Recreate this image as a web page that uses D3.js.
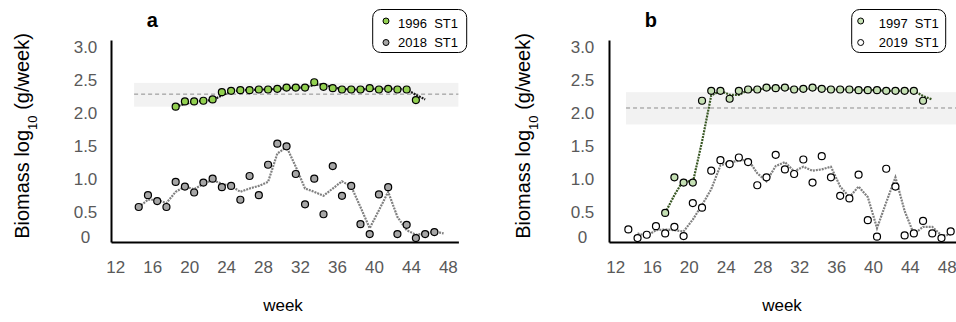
<!DOCTYPE html>
<html><head><meta charset="utf-8">
<script src="https://cdn.jsdelivr.net/npm/d3@7"></script>
<style>
html,body{margin:0;padding:0;background:#fff;}
svg{display:block;font-family:"Liberation Sans",Arial,sans-serif;}
</style></head><body>
<svg id="chart" width="956" height="322"></svg>
<script>
// ---------------- data ----------------
const xTickValues = [12, 16, 20, 24, 28, 32, 36, 40, 44, 48];
const yTickValues = [0, 0.5, 1, 1.5, 2, 2.5, 3];
const yTickLabels = ["0", "0.5", "1.0", "1.5", "2.0", "2.5", "3.0"];

// panel a
const aTitle = "a";
const aLegend = ["1996  ST1", "2018  ST1"];
const a1996Start = 18;
const a1996Values = [2.05,2.13,2.13,2.14,2.16,2.27,2.29,2.30,2.30,2.31,2.31,2.32,2.34,2.34,2.34,2.42,2.35,2.33,2.31,2.31,2.31,2.33,2.31,2.32,2.31,2.31,2.15];
const a1996TrendStart = 18;
const a1996Trend = [2.05,2.09,2.13,2.14,2.15,2.22,2.28,2.30,2.30,2.31,2.31,2.32,2.33,2.34,2.34,2.38,2.39,2.34,2.32,2.31,2.31,2.32,2.32,2.32,2.32,2.31,2.23,2.16];
const a2018Start = 14;
const a2018Values = [0.53,0.71,0.62,0.53,0.91,0.84,0.75,0.90,0.96,0.83,0.85,0.64,1.00,0.71,1.17,1.49,1.45,1.03,0.57,0.96,0.42,1.15,0.70,0.85,0.27,0.12,0.72,0.83,0.12,0.26,0.06,0.12,0.15];
const a2018TrendStart = 14;
const a2018Trend = [0.53,0.64,0.64,0.59,0.76,0.84,0.80,0.88,0.94,0.88,0.85,0.76,0.81,0.85,0.91,1.34,1.44,1.14,0.81,0.76,0.70,0.81,0.92,0.84,0.53,0.21,0.48,0.76,0.38,0.18,0.11,0.13,0.16,0.13];
const aBand = [2.05, 2.41];
const aMean = 2.24;
const aBandWeeks = [13.5, 48.6];

// panel b
const bTitle = "b";
const bLegend = ["1997  ST1", "2019  ST1"];
const b1997Start = 17;
const b1997Values = [0.44,0.98,0.90,0.90,2.14,2.29,2.29,2.17,2.29,2.31,2.31,2.34,2.33,2.34,2.31,2.32,2.34,2.32,2.31,2.31,2.31,2.30,2.30,2.30,2.29,2.29,2.29,2.29,2.14];
const b1997TrendStart = 17;
const b1997Trend = [0.44,0.71,0.94,0.90,1.52,2.22,2.29,2.23,2.23,2.30,2.31,2.33,2.33,2.33,2.32,2.31,2.33,2.33,2.31,2.31,2.31,2.30,2.30,2.30,2.29,2.29,2.29,2.29,2.21,2.16];
const b2019Start = 13;
const b2019Values = [0.19,0.06,0.11,0.24,0.13,0.23,0.09,0.59,0.52,1.08,1.24,1.18,1.28,1.21,0.86,0.98,1.32,1.10,1.03,1.25,0.90,1.30,0.98,0.70,0.66,1.02,0.33,0.08,1.11,0.84,0.10,0.13,0.32,0.13,0.06,0.16];
const b2019TrendStart = 14;
const b2019Trend = [0.13,0.09,0.18,0.19,0.18,0.16,0.34,0.56,0.80,1.16,1.21,1.23,1.25,1.04,0.92,1.15,1.21,1.07,1.14,1.08,1.10,1.14,0.84,0.68,0.84,0.68,0.21,0.60,0.98,0.47,0.12,0.23,0.23,0.10,0.11];
const bBand = [1.78, 2.27];
const bMean = 2.03;
const bBandWeeks = [12.75, 49.5];

// ---------------- drawing ----------------
const svg = d3.select("#chart");
const toPts = (start, vals) => vals.map((v, i) => ({w: start + i, v}));

function drawPanel(cfg) {
  const g = svg.append("g");
  const x = d3.scaleLinear().domain(cfg.xDomain).range(cfg.xRange);
  const y = d3.scaleLinear().domain([0, 3.06]).range([242, 40]);

  // reference band + mean line
  g.append("rect")
    .attr("x", x(cfg.bandWeeks[0])).attr("width", x(cfg.bandWeeks[1]) - x(cfg.bandWeeks[0]))
    .attr("y", y(cfg.band[1])).attr("height", y(cfg.band[0]) - y(cfg.band[1]))
    .attr("fill", "#f2f2f2");
  g.append("line")
    .attr("x1", x(cfg.bandWeeks[0])).attr("x2", x(cfg.bandWeeks[1]))
    .attr("y1", y(cfg.mean)).attr("y2", y(cfg.mean))
    .attr("stroke", "#8c8c8c").attr("stroke-width", 1).attr("stroke-dasharray", "4,3");

  // axes
  const xAxis = d3.axisBottom(x).tickValues(xTickValues).tickSize(0).tickSizeOuter(0).tickFormat(d3.format("d"));
  const xg = g.append("g").attr("transform", "translate(0,242)").call(xAxis);
  xg.select(".domain").attr("stroke", "#000").attr("stroke-width", 2);
  xg.selectAll("text").attr("y", 31).attr("dy", 0).attr("dx", cfg.xLabelDx)
    .attr("fill", "#595959").style("font-size", "17px").style("font-family", "Liberation Sans, Arial, sans-serif");

  const yAxis = d3.axisLeft(y).tickValues(yTickValues).tickSize(0).tickSizeOuter(0)
    .tickFormat((d, i) => yTickLabels[i]);
  const yg = g.append("g").attr("transform", `translate(${cfg.xRange[0]},0)`).call(yAxis);
  yg.select(".domain").attr("stroke", "#000").attr("stroke-width", 2);
  yg.selectAll("text").attr("x", cfg.yLabelX - cfg.xRange[0]).attr("text-anchor", "middle")
    .attr("dy", (d) => d === 0 ? "0.35em" : "0.35em")
    .attr("transform", (d) => d === 0 ? "translate(0,-5.5)" : "translate(0,3)")
    .attr("fill", "#595959").style("font-size", "17px").style("font-family", "Liberation Sans, Arial, sans-serif");

  const line = d3.line().x(d => x(d.w)).y(d => y(d.v));

  // later-year trend + points
  g.append("path").datum(toPts(cfg.s2.trendStart, cfg.s2.trend)).attr("d", line)
    .attr("fill", "none").attr("stroke", "#808080").attr("stroke-width", 2.2).attr("stroke-dasharray", "2,1");
  g.append("g").selectAll("circle").data(toPts(cfg.s2.start, cfg.s2.values)).join("circle")
    .attr("cx", d => x(d.w)).attr("cy", d => y(d.v)).attr("r", 3.5)
    .attr("fill", cfg.s2.fill).attr("stroke", "#000").attr("stroke-width", 1.2);

  // early-year trend + points
  g.append("path").datum(toPts(cfg.s1.trendStart, cfg.s1.trend)).attr("d", line)
    .attr("fill", "none").attr("stroke", cfg.s1.lineColor).attr("stroke-width", 2.2).attr("stroke-dasharray", "2,1");
  g.append("g").selectAll("circle").data(toPts(cfg.s1.start, cfg.s1.values)).join("circle")
    .attr("cx", d => x(d.w)).attr("cy", d => y(d.v)).attr("r", 3.5)
    .attr("fill", cfg.s1.fill).attr("stroke", "#000").attr("stroke-width", 1.2);

  // panel letter
  g.append("text").attr("x", cfg.titleX).attr("y", 26.5).attr("text-anchor", "middle")
    .style("font-size", "20px").style("font-weight", "bold").text(cfg.title);

  // y title
  const yt = g.append("text").attr("transform", `translate(${cfg.yTitleX},136) rotate(-90)`)
    .attr("text-anchor", "middle").attr("dy", "0.35em").style("font-size", "20px").attr("fill", "#000");
  yt.append("tspan").text("Biomass log");
  yt.append("tspan").attr("baseline-shift", "sub").style("font-size", "13px").text("10");
  yt.append("tspan").text(" (g/week)");

  // x title
  g.append("text").attr("x", cfg.xTitleX).attr("y", 311).attr("text-anchor", "middle")
    .style("font-size", "17px").text("week");

  // legend
  const lg = g.append("g").attr("transform", `translate(${cfg.legendX},9.5)`);
  lg.append("rect").attr("width", 94).attr("height", 43).attr("rx", 8).attr("ry", 8)
    .attr("fill", "#fff").attr("stroke", "#000").attr("stroke-width", 1);
  const rows = [{label: cfg.legend[0], fill: cfg.s1.fill, cy: 11.5, ty: 18},
                {label: cfg.legend[1], fill: cfg.s2.fill, cy: 33, ty: 37}];
  rows.forEach(r => {
    lg.append("circle").attr("cx", cfg.legendMarkerDx).attr("cy", r.cy).attr("r", 3)
      .attr("fill", r.fill).attr("stroke", "#000").attr("stroke-width", 1);
    lg.append("text").attr("x", cfg.legendTextDx).attr("y", r.ty).attr("xml:space", "preserve")
      .style("white-space", "pre").style("font-size", "13px").text(r.label);
  });
}

drawPanel({
  xDomain: [11, 48.6], xRange: [111, 458.4], xLabelDx: -5,
  yLabelX: 85.5, yTitleX: 22, xTitleX: 283, titleX: 152.3, title: aTitle,
  band: aBand, mean: aMean, bandWeeks: aBandWeeks,
  legend: aLegend, legendX: 372.7, legendMarkerDx: 13.3, legendTextDx: 25.3,
  s1: {start: a1996Start, values: a1996Values, trendStart: a1996TrendStart, trend: a1996Trend, fill: "#92d050", lineColor: "#1a1a1a"},
  s2: {start: a2018Start, values: a2018Values, trendStart: a2018TrendStart, trend: a2018Trend, fill: "#a6a6a6"}
});
drawPanel({
  xDomain: [10.9, 49.5], xRange: [609, 964.5], xLabelDx: -4,
  yLabelX: 582.5, yTitleX: 523, xTitleX: 782, titleX: 650.8, title: bTitle,
  band: bBand, mean: bMean, bandWeeks: bBandWeeks,
  legend: bLegend, legendX: 851.7, legendMarkerDx: 9, legendTextDx: 27,
  s1: {start: b1997Start, values: b1997Values, trendStart: b1997TrendStart, trend: b1997Trend, fill: "#c5e0b4", lineColor: "#385723"},
  s2: {start: b2019Start, values: b2019Values, trendStart: b2019TrendStart, trend: b2019Trend, fill: "#ffffff"}
});
</script>
</body></html>
